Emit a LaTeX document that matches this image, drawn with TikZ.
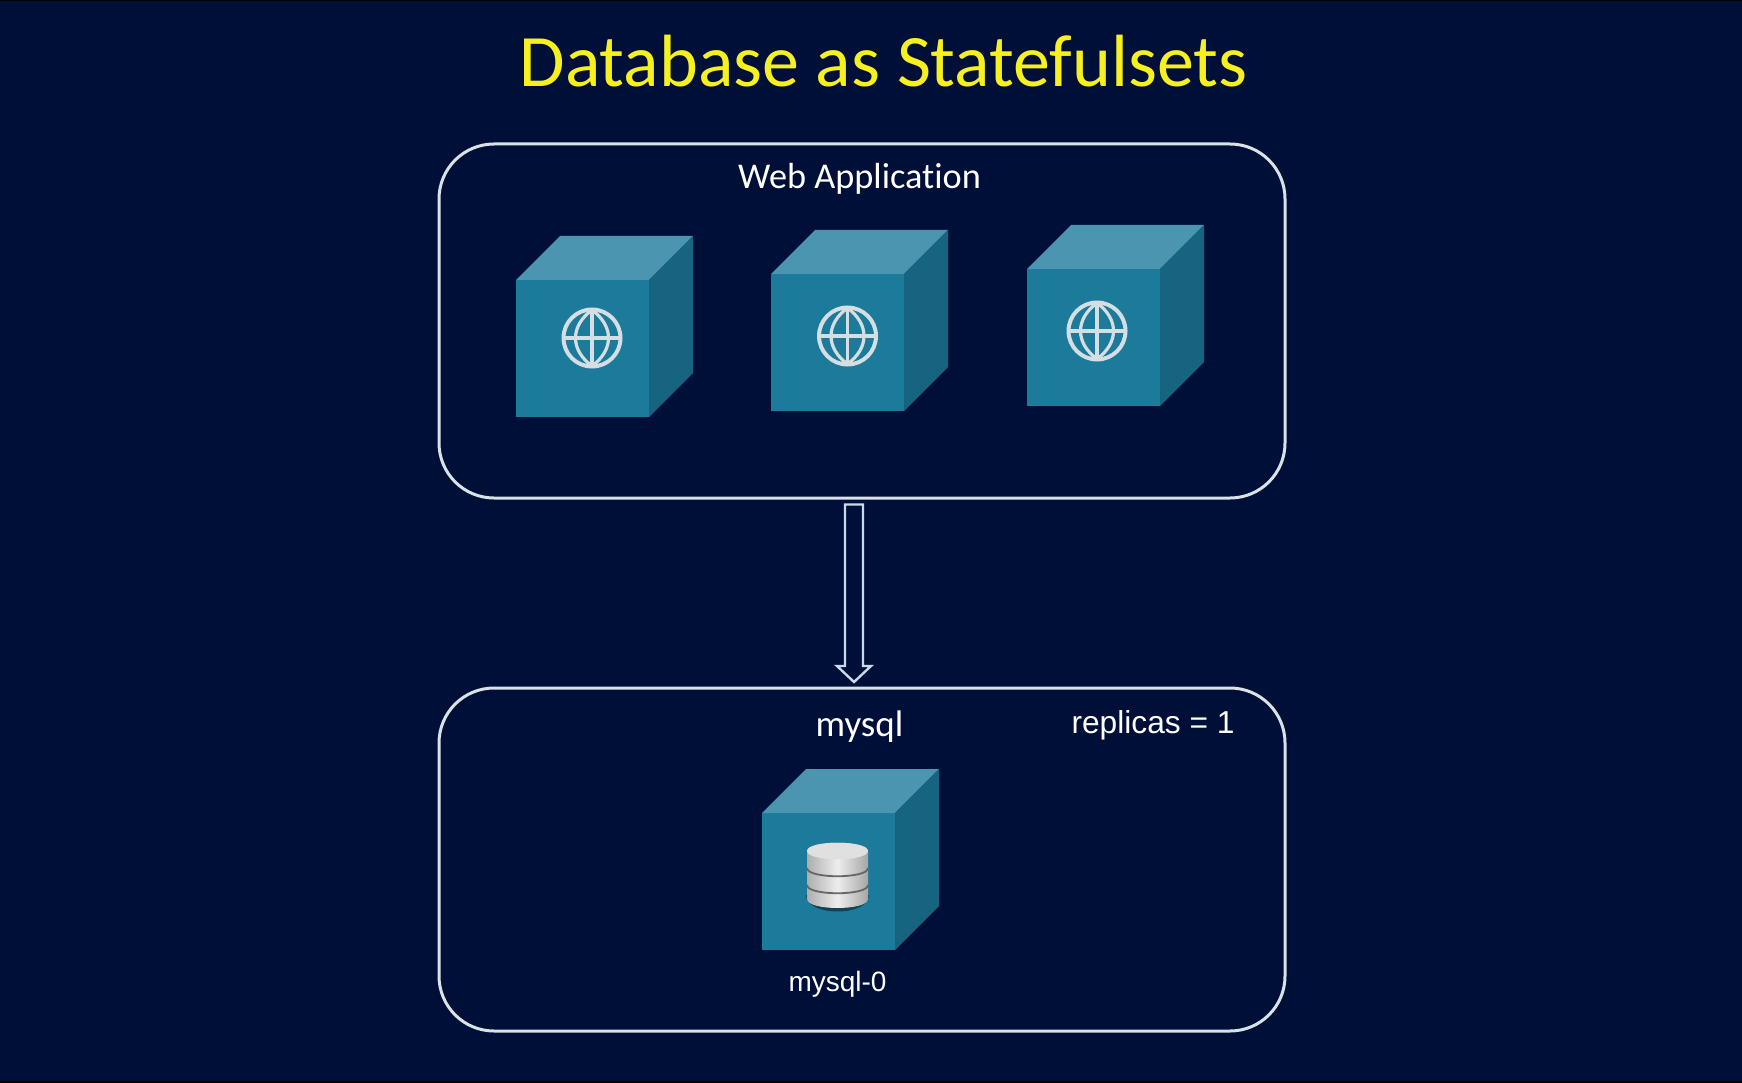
\documentclass[tikz,border=0pt]{standalone}
\usepackage{fontspec}
\setmainfont{Carlito}[Ligatures=NoCommon]
\newfontfamily\arialf{Liberation Sans}
\definecolor{bgc}{HTML}{000F37}
\definecolor{frontc}{HTML}{1C7A9A}
\definecolor{topc}{HTML}{4B95B0}
\definecolor{sidec}{HTML}{176481}
\definecolor{linec}{HTML}{D9E2E6}
\definecolor{arrowc}{HTML}{C9DAEA}
\definecolor{globec}{HTML}{D5DEE2}
\definecolor{titlec}{HTML}{F5F01E}
\tikzset{
  groupbox/.style={draw=linec,line width=3pt,rounded corners=55pt,fill=none},
  boxlabel/.style={text=white,inner sep=0pt,anchor=center},
  arrowbody/.style={draw=arrowc,line width=2.4pt,fill=bgc,line join=miter},
  globeline/.style={draw=globec,line width=3.2pt},
}
% #1 = x shift, #2 = y shift
\newcommand{\cubeshape}[2]{%
  \begin{scope}[shift={(#1,#2)}]
    \fill[frontc] (0,0) rectangle (133,137);
    \fill[topc] (0,0) -- (44,-44) -- (177,-44) -- (133,0) -- cycle;
    \fill[sidec] (133,0) -- (177,-44) -- (177,93) -- (133,137) -- cycle;
  \end{scope}}
\newcommand{\globeshape}[2]{%
  \begin{scope}[shift={(#1,#2)}]
    \draw[globeline,line width=4pt] (0,0) circle (28.5);
    \draw[globeline] (-28,0) -- (28,0);
    \draw[globeline] (0,-28) -- (0,28);
    \draw[globeline] (0,-28) .. controls (-22,-12) and (-22,12) .. (0,28);
    \draw[globeline] (0,-28) .. controls (22,-12) and (22,12) .. (0,28);
  \end{scope}}
\begin{document}
\begin{tikzpicture}[x=1pt,y=-1pt]
\useasboundingbox (0,0) rectangle (1742,1083);
\fill[bgc] (0,0) rectangle (1742,1083);
\fill[black] (0,1081) rectangle (1742,1083);
\fill[black] (0,0) rectangle (1742,1);

\node[boxlabel,text=titlec] (title) at (883.5,61) {\fontsize{74}{80}\selectfont Database as Statefulsets};

\node[groupbox,minimum width=846pt,minimum height=354pt,inner sep=0pt] (web) at (862,321) {};
\node[groupbox,minimum width=846pt,minimum height=343pt,inner sep=0pt] (db) at (862,859.5) {};

\node[boxlabel] (weblabel) at (859.5,179) {\fontsize{36.3}{42}\selectfont Web Application};
\node[boxlabel] (mysqllabel) at (859.5,727) {\fontsize{37}{42}\selectfont mysql};
\node[boxlabel] (replicas) at (1153,725) {\arialf\fontsize{31.7}{38}\selectfont replicas = 1};
\node[boxlabel] (mysql0) at (837.5,984) {\arialf\fontsize{28}{33}\selectfont mysql-0};

\cubeshape{516}{280}
\cubeshape{771}{274}
\cubeshape{1027}{269}
\cubeshape{762}{813}

\globeshape{592}{338}
\globeshape{847.5}{336}
\globeshape{1097}{331}

% database
\fill[black!45!frontc] (806,895) .. controls (806,917) and (869,917) .. (869,895) -- cycle;
\shade[left color=white!68!black,right color=white!65!black,middle color=white!93!black]
  (807,851) -- (807,899) .. controls (807,911) and (868,911) .. (868,899) -- (868,851)
  .. controls (868,840) and (807,840) .. (807,851) -- cycle;
\fill[white!88!black] (807,851) .. controls (807,840) and (868,840) .. (868,851)
  .. controls (868,862) and (807,862) .. (807,851) -- cycle;
\draw[black!60,line width=1.8pt] (807,868) .. controls (807,879) and (868,879) .. (868,868);
\draw[black!60,line width=1.8pt] (807,885) .. controls (807,896) and (868,896) .. (868,885);

% arrow
\coordinate (arrowtop) at (854,504.5);
\coordinate (arrowtip) at (854,682);
\draw[arrowbody] ([xshift=-9pt]arrowtop) -- ([xshift=9pt]arrowtop)
  -- ([xshift=9pt,yshift=16pt]arrowtip) -- ([xshift=17pt,yshift=16pt]arrowtip)
  -- (arrowtip) -- ([xshift=-17pt,yshift=16pt]arrowtip)
  -- ([xshift=-9pt,yshift=16pt]arrowtip) -- cycle;
\end{tikzpicture}
\end{document}
